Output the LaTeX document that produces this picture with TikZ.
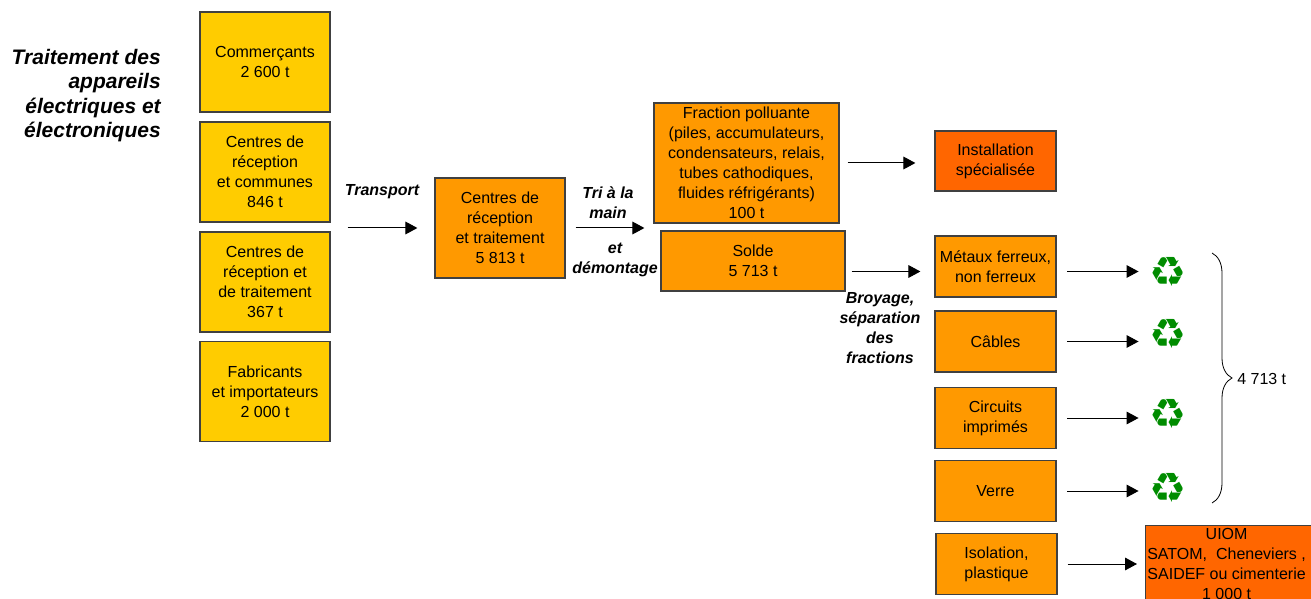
\documentclass[tikz,border=0pt]{standalone}
\usepackage{fontspec}
\setmainfont{Liberation Sans}
\newfontfamily\symbolfont{DejaVu Sans}
\usetikzlibrary{arrows.meta,calc,decorations.pathreplacing}
\definecolor{srcyellow}{HTML}{FFCC00}
\definecolor{sortorange}{HTML}{FF9900}
\definecolor{endorange}{HTML}{FF6600}
\definecolor{recyclegreen}{RGB}{0,140,0}
\tikzset{
  box/.style={draw=black!75,line width=0.9pt,align=center,inner sep=0pt,font=\fontsize{12}{15}\selectfont},
  source/.style={box,fill=srcyellow,minimum width=97.5pt,minimum height=75pt},
  sorted/.style={box,fill=sortorange},
  disposal/.style={box,fill=endorange},
  part/.style={sorted,minimum width=90.75pt,minimum height=45.75pt},
  flow/.style={-{Triangle[length=9pt,width=9.5pt]},line width=0.75pt},
  stage/.style={align=center,inner sep=0pt,font=\fontsize{12}{15}\selectfont\bfseries\itshape},
  recycle/.style={inner sep=0pt,text=recyclegreen,font=\symbolfont\fontsize{31}{31}\selectfont},
}
\begin{document}
\begin{tikzpicture}[x=0.75pt,y=-0.75pt]
  \useasboundingbox (0,0) rectangle (1311,599);
  \clip (0,0) rectangle (1311,599);
  \node[anchor=east,align=right,inner sep=0pt,font=\fontsize{15.75}{18.4}\selectfont\bfseries\itshape] (title) at (161,95.5) {Traitement des\\appareils\\électriques et\\électroniques};
  \node[source] (shops) at (265,62) {Commerçants\\2 600 t};
  \node[source] (communes) at (265,172) {Centres de\\réception\\et communes\\846 t};
  \node[source] (plants) at (265,282) {Centres de\\réception et\\de traitement\\367 t};
  \node[source] (makers) at (265,391.5) {Fabricants\\et importateurs\\2 000 t};
  \coordinate (collect) at ($(communes.south east)!0.5!(plants.north east)$);
  \node[sorted,minimum width=97.5pt,minimum height=75pt] (centre) at (500,228) {Centres de\\réception\\et traitement\\5 813 t};
  \node[sorted,minimum width=138.75pt,minimum height=90pt] (pollutant) at (746.5,163) {Fraction polluante\\(piles, accumulateurs,\\condensateurs, relais,\\tubes cathodiques,\\fluides réfrigérants)\\100 t};
  \node[sorted,minimum width=138pt,minimum height=45pt] (rest) at (753,261) {Solde\\5 713 t};
  \node[disposal,minimum width=90.75pt,minimum height=45pt] (special) at (995.5,161) {Installation\\spécialisée};
  \node[part] (metals) at (995.5,266.5) {Métaux ferreux,\\non ferreux};
  \node[part] (cables) at (995.5,341.5) {Câbles};
  \node[part] (circuits) at (995.5,418) {Circuits\\imprimés};
  \node[part] (glass) at (995.5,491) {Verre};
  \node[part] (plastic) at (996.5,564) {Isolation,\\plastique};
  \node[disposal,anchor=north west,minimum width=131.25pt,minimum height=57pt] (incineration) at (1145,525) {\begin{tabular}{@{}c@{\hspace{9.75pt}}}UIOM\\SATOM,\ \ Cheneviers ,\\SAIDEF ou cimenterie\\1 000 t\end{tabular}};
  \node[stage] (transport) at (382,192) {Transport};
  \node[stage] (sorting) at (608,203) {Tri à la\\main};
  \node[stage] (dismantling) at (615,259.5) {et\\démontage};
  \node[stage] (shredding) at (880,328) {Broyage,\\séparation\\des\\fractions};
  \node[recycle] (eco1) at (1168,271.5) {♻};
  \node[recycle] (eco2) at (1168,334) {♻};
  \node[recycle] (eco3) at (1168,414) {♻};
  \node[recycle] (eco4) at (1168,487.5) {♻};
  \draw[flow,shorten <=12.75pt,shorten >=12.75pt] (collect |- centre) -- (centre.west);
  \draw[flow,shorten <=7.5pt,shorten >=6.75pt] (centre.east) -- (centre.east -| pollutant.west);
  \draw[flow,shorten <=6pt,shorten >=14.25pt] (pollutant.east) -- (pollutant.east -| special.west);
  \draw[flow,shorten <=4.5pt,shorten >=10.5pt] (rest.east |- eco1) -- (metals.west |- eco1);
  \draw[flow,shorten <=8pt,shorten >=8pt] (metals.east |- eco1) -- (eco1.west);
  \draw[flow,shorten <=8pt,shorten >=8pt] (cables.east) -- (cables.east -| eco2.west);
  \draw[flow,shorten <=8pt,shorten >=8pt] (circuits.east) -- (circuits.east -| eco3.west);
  \draw[flow,shorten <=8pt,shorten >=8pt] (glass.east) -- (glass.east -| eco4.west);
  \draw[flow,shorten <=7.5pt,shorten >=6pt] (plastic.east) -- (plastic.east -| incineration.west);
  \draw[decorate,decoration={brace,amplitude=15pt},line width=0.6pt] (1212,253) -- (1212,503);
  \node[anchor=west,inner sep=0pt,font=\fontsize{12}{15}\selectfont] (total) at (1237,379) {4 713 t};
\end{tikzpicture}
\end{document}
